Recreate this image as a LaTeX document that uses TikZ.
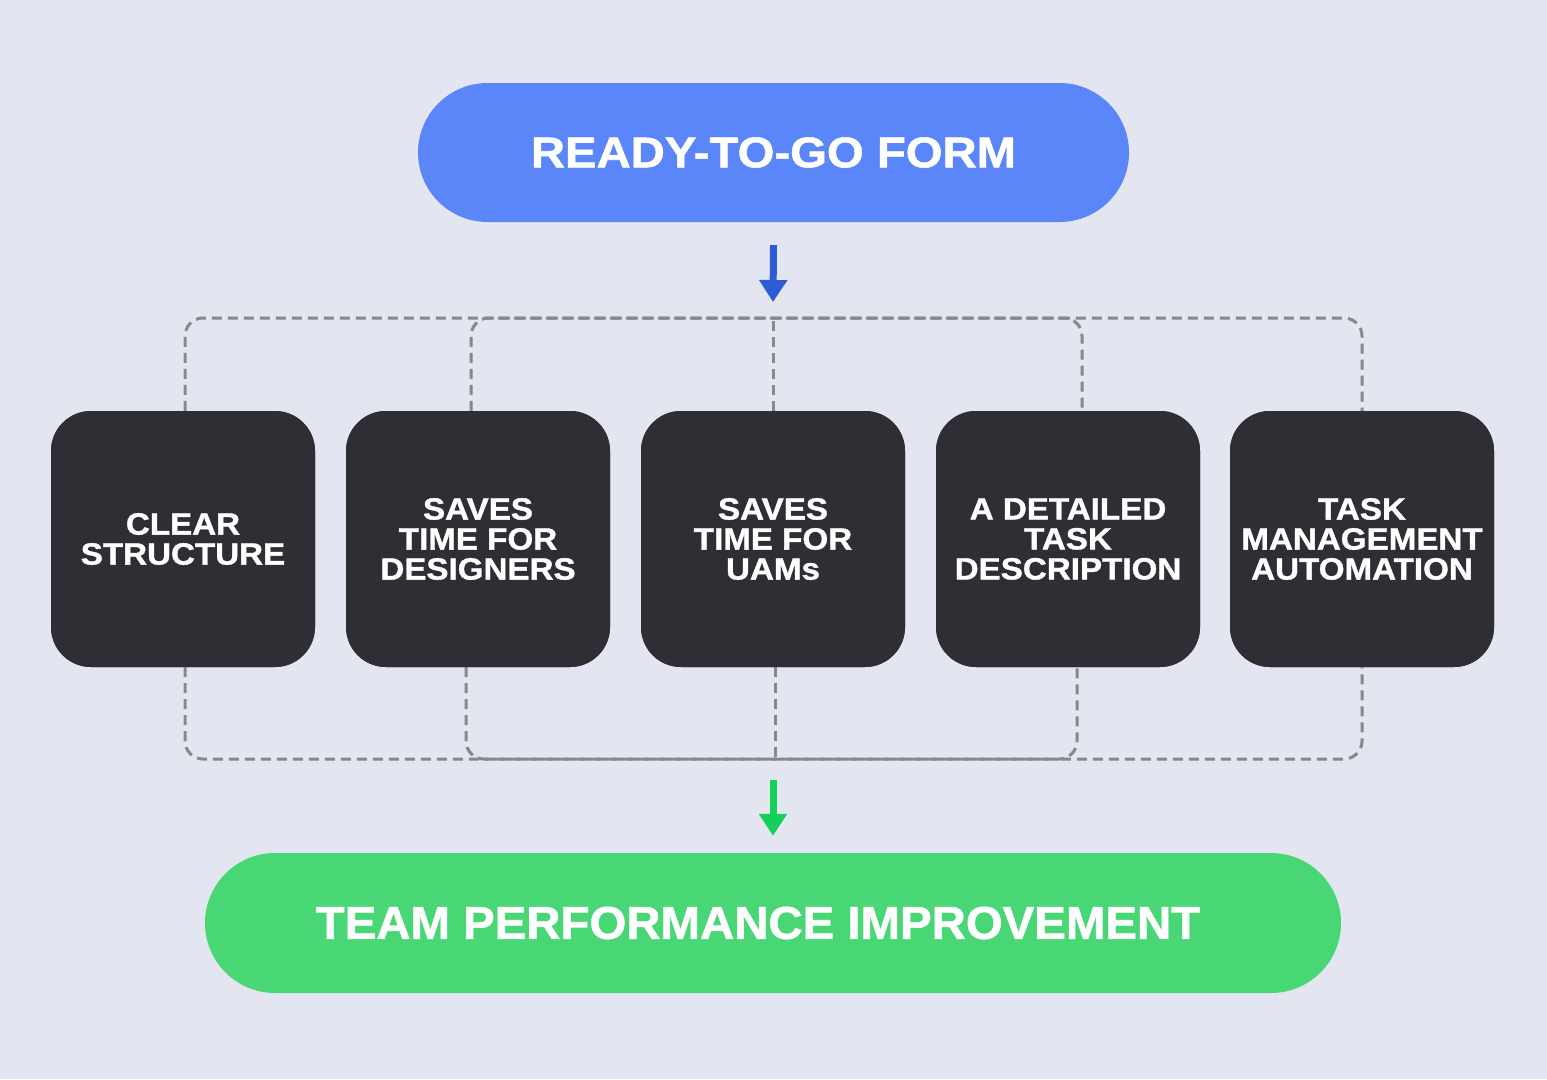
\documentclass[tikz,border=0pt]{standalone}
\usepackage{fontspec}
\usetikzlibrary{arrows.meta}
\newfontfamily\widefont[FakeStretch=1.10,FakeBold=1.2]{Liberation Sans Bold}
\newfontfamily\boxfontfam[FakeStretch=1.08,FakeBold=1.2]{Liberation Sans Bold}
\newfontfamily\normfont[FakeStretch=1.03,FakeBold=1.2]{Liberation Sans Bold}
\definecolor{bgc}{HTML}{E3E6F1}
\definecolor{topblue}{HTML}{5A86F9}
\definecolor{arrblue}{HTML}{2D5BD6}
\definecolor{botgreen}{HTML}{49D775}
\definecolor{arrgreen}{HTML}{14CF58}
\definecolor{boxc}{HTML}{2E2E34}
\definecolor{dashc}{HTML}{86888F}
\begin{document}
\begin{tikzpicture}[x=1pt,y=-1pt,
  pill/.style={draw=none,inner sep=0pt,text=white},
  featbox/.style={fill=boxc,draw=none,minimum width=264pt,minimum height=256pt,
    rounded corners=40pt,inner sep=0pt,text=white,align=center,
    font=\boxfontfam\fontsize{30.7}{30}\selectfont},
  dashline/.style={draw=dashc,line width=3pt,dash pattern=on 10pt off 6pt,rounded corners=18pt},
  flowarrow/.style={line width=7pt,-{Triangle[width=27pt,length=22pt]}}
]
\fill[bgc] (0,0) rectangle (1547,1079);
\useasboundingbox (0,0) rectangle (1547,1079);

% nodes
\node[pill,fill=topblue,minimum width=711pt,minimum height=139pt,rounded corners=69.5pt,
  font=\widefont\fontsize{43}{43}\selectfont] (top) at (773.5,152.5) {READY-TO-GO FORM};
\node[pill,fill=botgreen,minimum width=1136pt,minimum height=140pt,rounded corners=70pt,
  font=\normfont\fontsize{46}{46}\selectfont] (bot) at (773,923) {TEAM PERFORMANCE IMPROVEMENT\kern30pt\relax};

% dashed connectors (behind boxes)
\coordinate (o1) at (185,318);
\coordinate (o2) at (1362,318);
\coordinate (o3) at (185,759);
\coordinate (o4) at (1362,759);
\coordinate (i1) at (471,318);
\coordinate (i2) at (1082,318);
\coordinate (i3) at (466,759);
\coordinate (i4) at (1077,759);

\node[featbox] (b1) at (183,539) {CLEAR\\STRUCTURE};
\node[featbox] (b2) at (478,539) {SAVES\\TIME FOR\\DESIGNERS};
\node[featbox] (b3) at (773,539) {SAVES\\TIME FOR\\UAMs};
\node[featbox] (b4) at (1068,539) {A DETAILED\\TASK\\DESCRIPTION};
\node[featbox] (b5) at (1362,539) {TASK\\MANAGEMENT\\AUTOMATION};

\draw[dashline] (b1.north -| o1) -- (o1) -- (o2) -- (b5.north -| o2);
\draw[dashline] (b2.north -| i1) -- (i1) -- (i2) -- (b4.north -| i2);
\draw[dashline] (b3.north) -- (b3.north |- o1);
\draw[dashline] (b1.south -| o3) -- (o3) -- (o4) -- (b5.south -| o4);
\draw[dashline] (b2.south -| i3) -- (i3) -- (i4) -- (b4.south -| i4);
\draw[dashline] ([xshift=2pt]b3.south) -- ([xshift=2pt]b3.south |- o3);

% redraw boxes on top of dashed lines
\node[featbox] at (b1) {CLEAR\\STRUCTURE};
\node[featbox] at (b2) {SAVES\\TIME FOR\\DESIGNERS};
\node[featbox] at (b3) {SAVES\\TIME FOR\\UAMs};
\node[featbox] at (b4) {A DETAILED\\TASK\\DESCRIPTION};
\node[featbox] at (b5) {TASK\\MANAGEMENT\\AUTOMATION};

% arrows
\coordinate (ba1) at ([yshift=-23pt]top.south);
\coordinate (ba2) at (773,302);
\draw[flowarrow,draw=arrblue,fill=arrblue] (ba1) -- (ba2);
\coordinate (ga1) at (773,780);
\coordinate (ga2) at ([yshift=17pt]bot.north);
\draw[flowarrow,draw=arrgreen,fill=arrgreen] (ga1) -- (ga2);
\end{tikzpicture}
\end{document}
